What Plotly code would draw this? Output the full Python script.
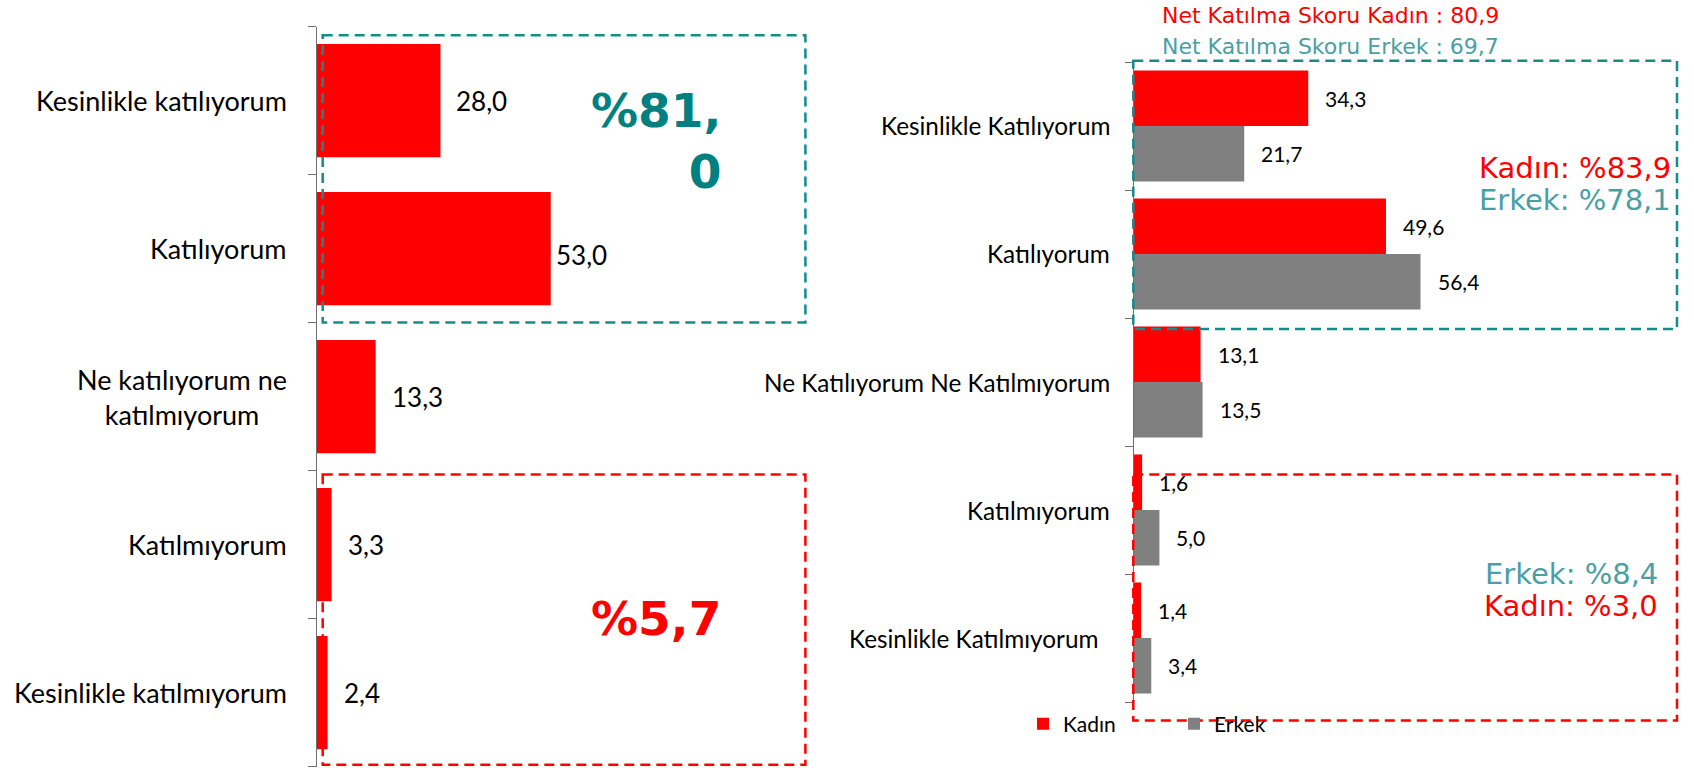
import plotly.graph_objects as go

# ---------------- data ----------------
left_categories = ["Kesinlikle katılıyorum", "Katılıyorum", "Ne katılıyorum ne<br>katılmıyorum",
                   "Katılmıyorum", "Kesinlikle katılmıyorum"]
left_values = [28.0, 53.0, 13.3, 3.3, 2.4]

right_categories = ["Kesinlikle Katılıyorum", "Katılıyorum", "Ne Katılıyorum Ne Katılmıyorum",
                    "Katılmıyorum", "Kesinlikle Katılmıyorum"]
kadin_values = [34.3, 49.6, 13.1, 1.6, 1.4]
erkek_values = [21.7, 56.4, 13.5, 5.0, 3.4]
series_names = ["Kadın", "Erkek"]

left_agree_total = "%81,<br>0"
left_disagree_total = "%5,7"
net_score_kadin = "Net Katılma Skoru Kadın : 80,9"
net_score_erkek = "Net Katılma Skoru Erkek : 69,7"
agree_kadin = "Kadın: %83,9"
agree_erkek = "Erkek: %78,1"
disagree_erkek = "Erkek: %8,4"
disagree_kadin = "Kadın: %3,0"

# ---------------- style ----------------
W, H = 1694, 768
RED = "#FF0000"
GRAY = "#808080"
TEAL_DARK = "#008080"
TEAL_LIGHT = "#4A9FA5"
TEAL_BOX = "#178A8A"
AXIS = "#6F6F6F"
FONT = "Lato"
VFONT = "DejaVu Sans"


def px(x):
    return x / W


def py(y):
    return 1 - y / H


def fmt(v):
    return f"{v:.1f}".replace(".", ",")


n = len(left_categories)
idx = list(range(n))
bw = 0.434

fig = go.Figure()
fig.add_trace(go.Bar(x=left_values, y=idx, orientation="h", xaxis="x", yaxis="y",
                     marker=dict(color=RED, line=dict(width=0)), width=0.765,
                     showlegend=False, hoverinfo="x+y"))
fig.add_trace(go.Bar(x=kadin_values, y=idx, orientation="h", xaxis="x2", yaxis="y2",
                     name=series_names[0], marker=dict(color=RED, line=dict(width=0)),
                     offset=-bw, width=bw))
fig.add_trace(go.Bar(x=erkek_values, y=idx, orientation="h", xaxis="x2", yaxis="y2",
                     name=series_names[1], marker=dict(color=GRAY, line=dict(width=0)),
                     offset=0, width=bw))

boundaries = [i - 0.5 for i in range(n + 1)]
yaxis_common = dict(range=[n - 0.5, -0.5], showline=True, linecolor=AXIS, linewidth=1,
                    ticks="outside", ticklen=8, tickcolor=AXIS, tickwidth=1,
                    tickvals=boundaries, showticklabels=False, showgrid=False,
                    zeroline=False, fixedrange=True)
xaxis_common = dict(visible=False, showgrid=False, zeroline=False, fixedrange=True)

left_x0, left_x1, left_scale = 317, 807, 4.41
right_x0, right_x1, right_scale = 1134, 1680, 5.08

fig.update_layout(
    width=W, height=H,
    margin=dict(l=0, r=0, t=0, b=0),
    paper_bgcolor="white", plot_bgcolor="white",
    font=dict(family=FONT, color="black"),
    barmode="overlay",
    xaxis=dict(domain=[px(left_x0), px(left_x1)],
               range=[0, (left_x1 - left_x0) / left_scale], anchor="y", **xaxis_common),
    yaxis=dict(domain=[py(766.6), py(26.5)], anchor="x", **yaxis_common),
    xaxis2=dict(domain=[px(right_x0), px(right_x1)],
                range=[0, (right_x1 - right_x0) / right_scale], anchor="y2", **xaxis_common),
    yaxis2=dict(domain=[py(702), py(62)], anchor="x2", **yaxis_common),
    legend=dict(orientation="h", x=px(1023), y=py(724), xanchor="left", yanchor="middle",
                font=dict(family=FONT, size=21, color="black"),
                entrywidth=106, entrywidthmode="pixels", bgcolor="rgba(0,0,0,0)",
                traceorder="normal"),
    showlegend=True,
)

ann = []
# category labels
for i, c in enumerate(left_categories):
    ann.append(dict(x=px(289), xref="paper", y=i, yref="y", text=c, showarrow=False,
                    xanchor="right", yanchor="middle", align="center",
                    font=dict(family=FONT, size=27, color="black")))
for i, c in enumerate(right_categories):
    ann.append(dict(x=px(1112), xref="paper", y=i, yref="y2", text=c, showarrow=False,
                    xanchor="right", yanchor="middle", align="right",
                    xshift=-12 if i == n - 1 else 0,
                    font=dict(family=FONT, size=24.3, color="black")))
# data labels
for i, v in enumerate(left_values):
    close = v == max(left_values)
    ann.append(dict(x=v, xref="x", y=i, yref="y", text=fmt(v), showarrow=False,
                    xanchor="left", yanchor="middle", xshift=3 if close else 14,
                    yshift=-6 if close else 0,
                    font=dict(family=FONT, size=26, color="black")))
for i, v in enumerate(kadin_values):
    ann.append(dict(x=v, xref="x2", y=i - bw / 2, yref="y2", text=fmt(v), showarrow=False,
                    xanchor="left", yanchor="middle", xshift=15,
                    font=dict(family=FONT, size=21, color="black")))
for i, v in enumerate(erkek_values):
    ann.append(dict(x=v, xref="x2", y=i + bw / 2, yref="y2", text=fmt(v), showarrow=False,
                    xanchor="left", yanchor="middle", xshift=15,
                    font=dict(family=FONT, size=21, color="black")))

# big totals on the left
ann.append(dict(x=px(723), y=py(141), xref="paper", yref="paper", text=left_agree_total,
                showarrow=False, xanchor="right", yanchor="middle", align="right",
                font=dict(family=VFONT, size=47, color=TEAL_DARK, weight="bold")))
ann.append(dict(x=px(723), y=py(618), xref="paper", yref="paper", text=left_disagree_total,
                showarrow=False, xanchor="right", yanchor="middle",
                font=dict(family=VFONT, size=47, color=RED, weight="bold")))

# right side notes
ann.append(dict(x=px(1160), y=py(15), xref="paper", yref="paper", text=net_score_kadin,
                showarrow=False, xanchor="left", yanchor="middle",
                font=dict(family=VFONT, size=22, color=RED)))
ann.append(dict(x=px(1160), y=py(47), xref="paper", yref="paper", text=net_score_erkek,
                showarrow=False, xanchor="left", yanchor="middle",
                font=dict(family=VFONT, size=22, color=TEAL_LIGHT)))
ann.append(dict(x=px(1673), y=py(168), xref="paper", yref="paper", text=agree_kadin,
                showarrow=False, xanchor="right", yanchor="middle",
                font=dict(family=VFONT, size=29, color=RED)))
ann.append(dict(x=px(1673), y=py(200), xref="paper", yref="paper", text=agree_erkek,
                showarrow=False, xanchor="right", yanchor="middle",
                font=dict(family=VFONT, size=29, color=TEAL_LIGHT)))
ann.append(dict(x=px(1660), y=py(574), xref="paper", yref="paper", text=disagree_erkek,
                showarrow=False, xanchor="right", yanchor="middle",
                font=dict(family=VFONT, size=29, color=TEAL_LIGHT)))
ann.append(dict(x=px(1660), y=py(606), xref="paper", yref="paper", text=disagree_kadin,
                showarrow=False, xanchor="right", yanchor="middle",
                font=dict(family=VFONT, size=29, color=RED)))
fig.update_layout(annotations=ann)

# dashed boxes
dash = "10px,6px"
boxes = [
    (322.7, 35.3, 805.4, 322.5, TEAL_BOX),
    (322.7, 474.5, 805.4, 764.7, RED),
    (1133.3, 60.7, 1677, 329, TEAL_BOX),
    (1133.3, 474.5, 1677, 720.6, RED),
]
for x0, y0, x1, y1, col in boxes:
    fig.add_shape(type="rect", xref="paper", yref="paper", x0=px(x0), x1=px(x1),
                  y0=py(y0), y1=py(y1), line=dict(color=col, width=2.5, dash=dash),
                  fillcolor="rgba(0,0,0,0)", layer="above")

fig.write_html("out.html", config={"displayModeBar": False},
               post_script="document.body.style.margin='0px';")
